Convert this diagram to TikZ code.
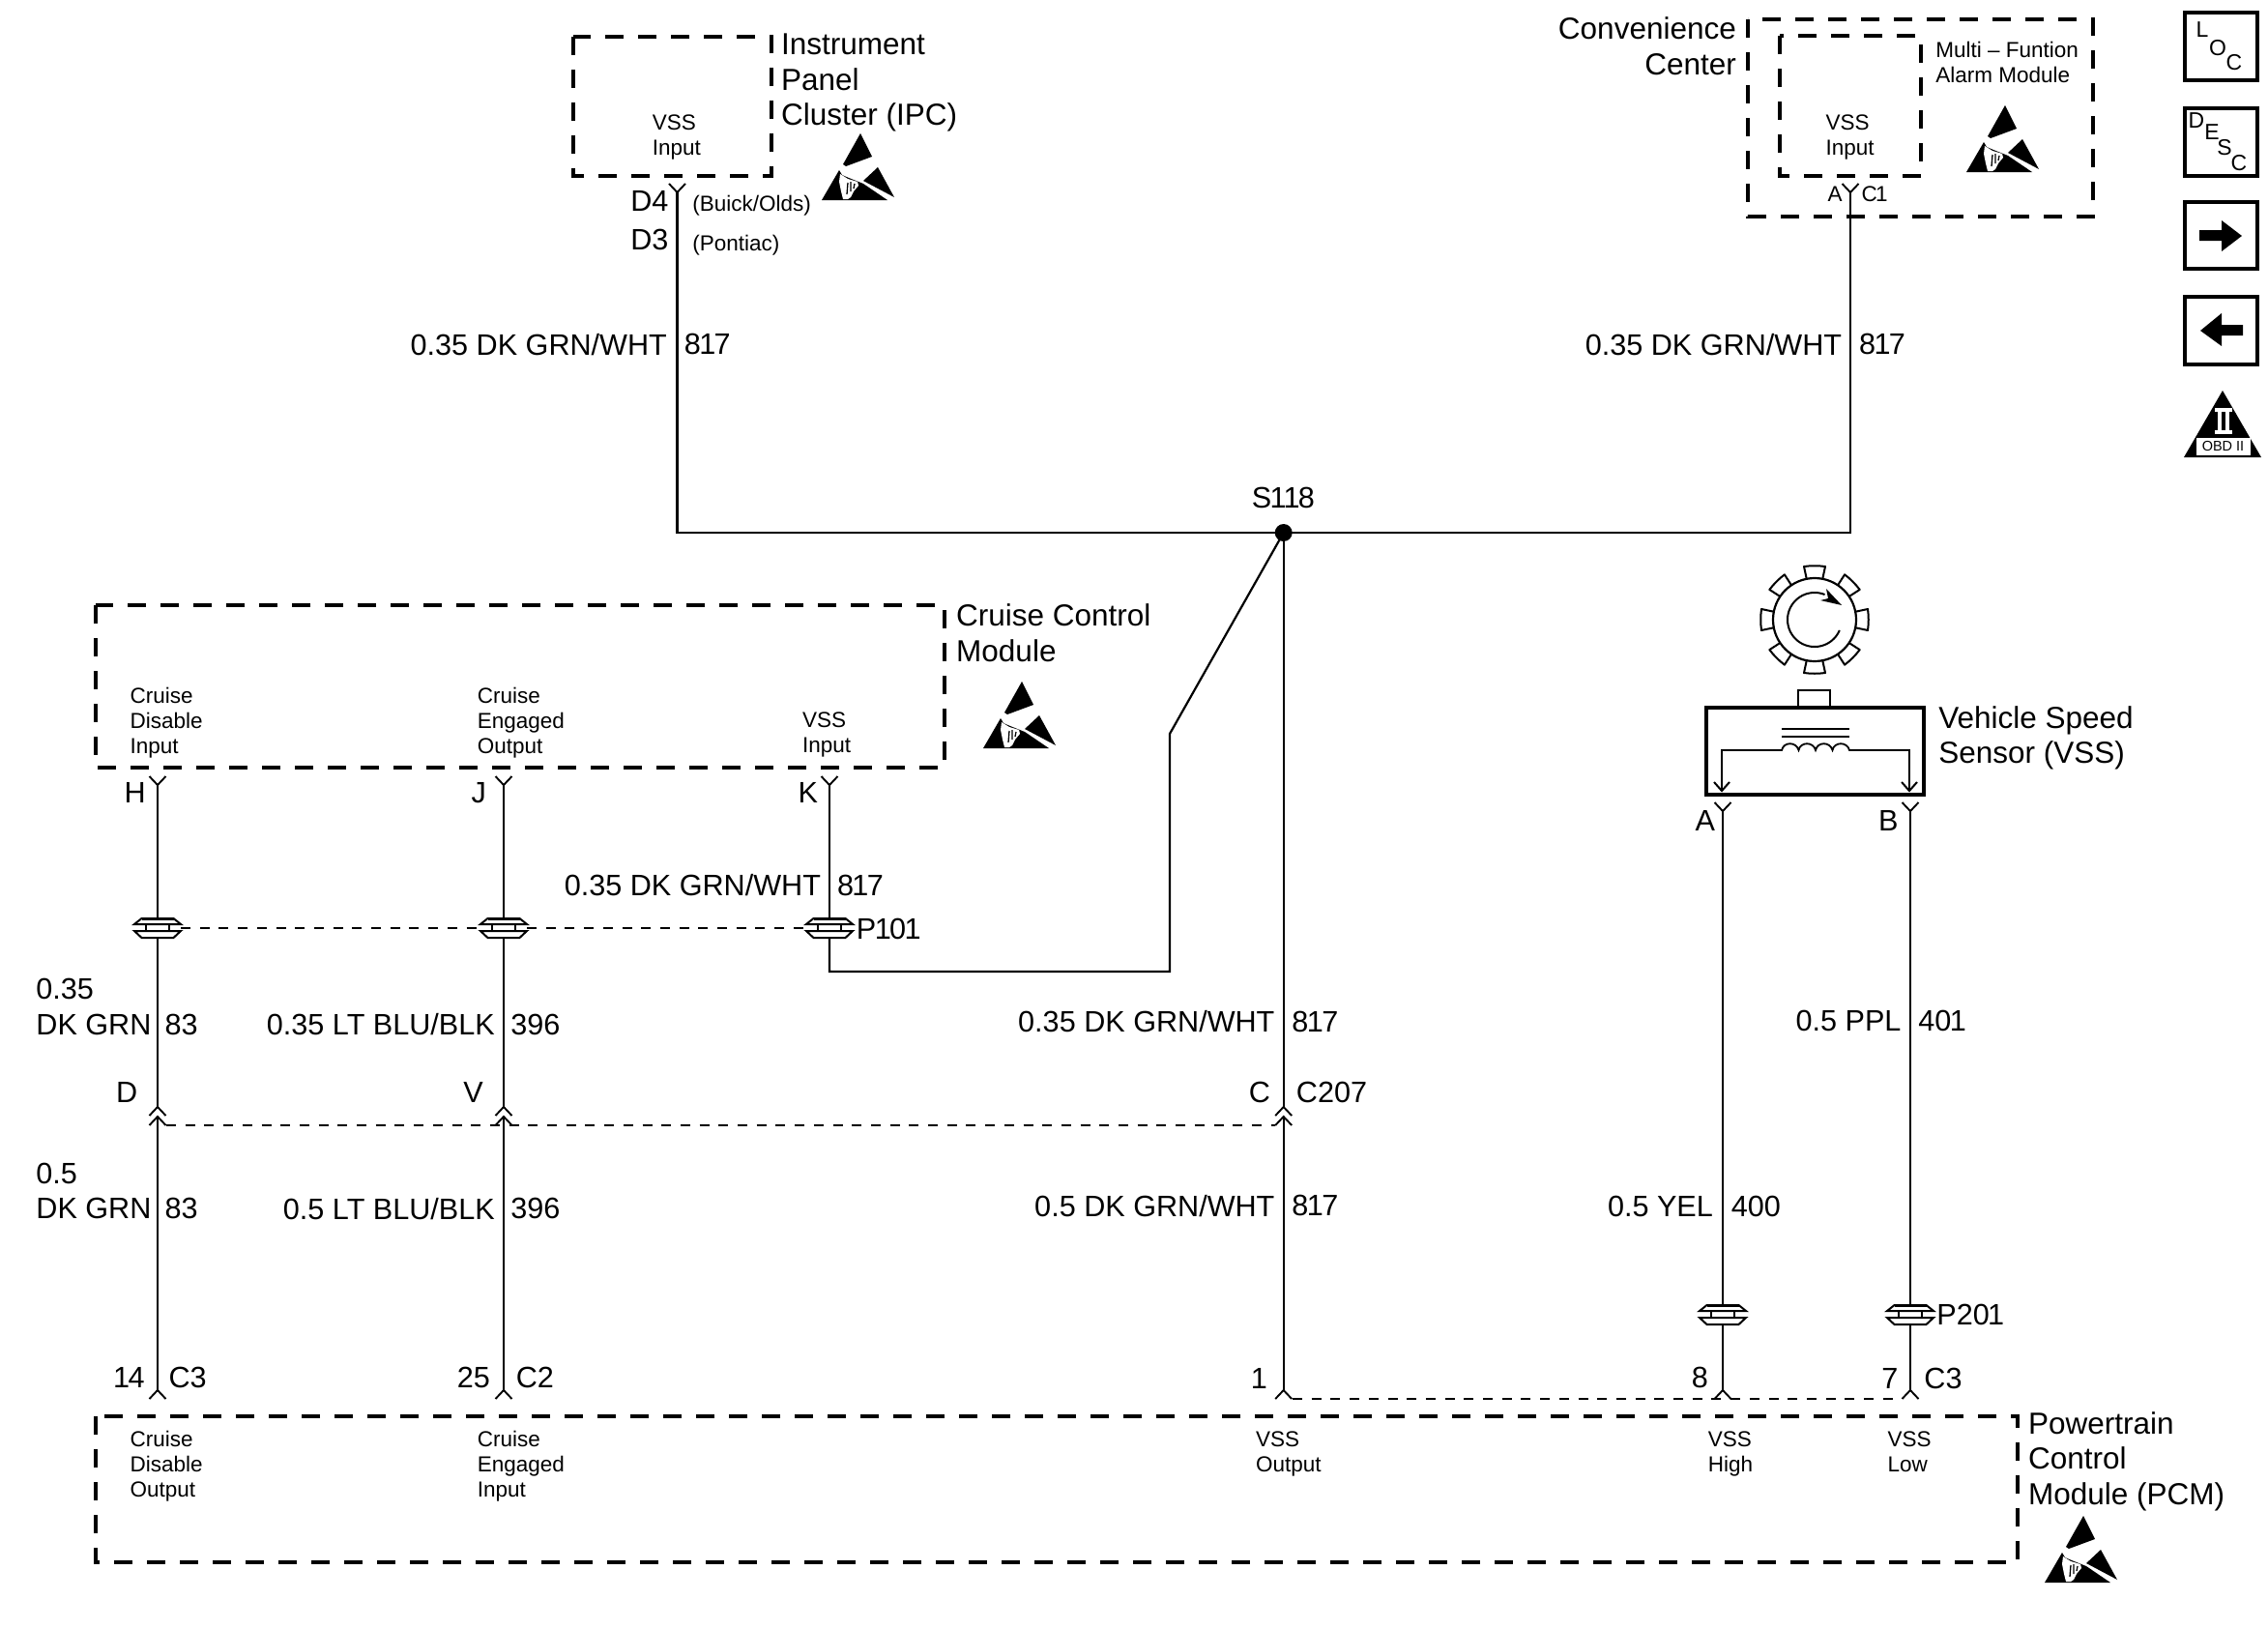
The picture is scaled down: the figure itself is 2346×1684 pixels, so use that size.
\documentclass[tikz,border=0pt]{standalone}
\usepackage{fontspec}
\setmainfont{Liberation Sans}
\newcommand\oneN{\kern-1.6pt 1\kern-1.6pt}
\tikzset{
  wire/.style={line width=2.2pt,line join=miter},
  hair/.style={line width=1.1pt,dash pattern=on 10pt off 9.7pt},
  boxdash/.style={line width=4pt,dash pattern=on 19pt off 15pt},
  big/.style={inner sep=0pt,outer sep=0pt,font=\fontsize{30.6}{36.5}\selectfont,align=left},
  title/.style={inner sep=0pt,outer sep=0pt,font=\fontsize{31.5}{36.5}\selectfont,align=left},
  titler/.style={title,align=right},
  small/.style={inner sep=0pt,outer sep=0pt,font=\fontsize{22.5}{26}\selectfont,align=left},
  iconbox/.style={line width=3.2pt,draw=black,fill=white},
  iconletter/.style={inner sep=0pt,font=\fontsize{23}{23}\selectfont},
}
% pin opening upward (Y), name = point where the wire meets it
\newcommand\pinY[3]{\coordinate (#1) at (#2,#3);
  \draw[line width=1.9pt] (#2-8.5,#3-9) -- (#1) -- (#2+8.5,#3-9);}
% pin opening downward (caret), name = apex
\newcommand\pinC[3]{\coordinate (#1) at (#2,#3);
  \draw[line width=1.9pt] (#2-8.5,#3+9) -- (#1) -- (#2+8.5,#3+9);}
% inline connector: names #1t and #1b are the wire ends
\newcommand\inl[3]{\coordinate (#1t) at (#2,#3-10);\coordinate (#1b) at (#2,#3+10);
  \coordinate (#1l) at (#2-24,#3);\coordinate (#1r) at (#2+24,#3);
  \begin{scope}[shift={(#2,#3)}]
  \draw[line width=2pt,line join=miter] (-24,-4) -- (-16.5,-10) -- (16.5,-10) -- (24,-4) -- cycle;
  \draw[line width=2pt,line join=miter] (-24,3) -- (-16.5,10) -- (16.5,10) -- (24,3) -- cycle;
  \draw[line width=2pt] (-12,-4) -- (-12,3) (12,-4) -- (12,3);
  \draw[line width=3pt] (-16.5,-10) -- (16.5,-10);
  \end{scope}}
% ESD symbol, #1,#2 = top left corner of its bounds
\newcommand\esd[2]{\begin{scope}[shift={(#1,#2)}]
  \fill (40,0) -- (52,24) -- (25,34) -- (22,32) -- cycle;
  \fill (18,38) -- (0,69) -- (68,69) -- (43,52) -- (38,50) -- (28,46) -- (21,43) -- cycle;
  \fill (58,35) -- (75,66) -- (43,49) -- cycle;
  \fill[white] (19,42) -- (27,47) -- (37,50) -- (38,54) -- (33,60) -- (30,66) -- (27,68) -- (22,68) -- (20,60) -- (18,50) -- cycle;
  \draw[line width=1.3pt] (27,51) -- (26,63) (30,50) -- (30,60) (34,52) -- (33,57);
  \end{scope}}
\begin{document}
\begin{tikzpicture}[x=1pt,y=-1pt]
\useasboundingbox[fill=white] (0,0) rectangle (2346,1684);

% module boxes
\draw[boxdash] (593,38) rectangle (798,182);
\draw[boxdash] (1808,20) rectangle (2165,224);
\draw[boxdash] (1841,37) rectangle (1987,182);
\draw[boxdash] (99,626) rectangle (977,794);
\draw[boxdash] (99,1465) rectangle (2087,1616);

% pins
\pinY{ipc}{700.5}{199}
\pinY{conv}{1914}{199}
\pinY{h}{163}{812}
\pinY{j}{521}{812}
\pinY{k}{858}{812}
\pinY{a}{1782}{839}
\pinY{b}{1976}{839}
\pinC{dTop}{163}{1145}\pinC{dBot}{163}{1155}
\pinC{vTop}{521}{1145}\pinC{vBot}{521}{1155}
\pinC{cTop}{1327.7}{1145}\pinC{cBot}{1327.7}{1155}
\pinC{p14}{163}{1438}
\pinC{p25}{521}{1438}
\pinC{p1}{1327.7}{1438}
\pinC{p8}{1782}{1438}
\pinC{p7}{1976}{1438}
\inl{ph}{163}{960}
\inl{pj}{521}{960}
\inl{pk}{858}{960}
\inl{ps}{1782}{1360}
\inl{pt}{1976}{1360}

% splice
\node[circle,fill=black,inner sep=0pt,minimum size=18pt] (s118) at (1327.7,551) {};
\coordinate (kTurn) at (858,1005);
\coordinate (kTurn2) at (1210,1005);
\coordinate (kTurn3) at (1210,759);

% wires
\draw[wire] (ipc) |- (s118.center) -| (conv);
\draw[wire] (s118.center) -- (kTurn3) -- (kTurn2) -- (kTurn) -- (pkb);
\draw[wire] (k) -- (pkt);
\draw[wire] (h) -- (pht);
\draw[wire] (j) -- (pjt);
\draw[wire] (phb) -- (dTop);
\draw[wire] (pjb) -- (vTop);
\draw[wire] (s118.center) -- (cTop);
\draw[wire] (dBot) -- (p14);
\draw[wire] (vBot) -- (p25);
\draw[wire] (cBot) -- (p1);
\draw[wire] (a) -- (pst);
\draw[wire] (b) -- (ptt);
\draw[wire] (psb) -- (p8);
\draw[wire] (ptb) -- (p7);

% dashed ties
\draw[hair] (phr) -- (pjl);
\draw[hair] (pjr) -- (pkl);
\coordinate (dDash) at (172,1164);
\coordinate (cDash) at (1319,1164);
\draw[hair] (dDash) -- (cDash);
\coordinate (oneDash) at (1337,1447);
\coordinate (sevenDash) at (1967,1447);
\draw[hair] (oneDash) -- (sevenDash);

% vehicle speed sensor
\foreach \a in {0,45,...,315}{
  \begin{scope}[shift={(1877,641)},rotate=\a]
  \draw[line width=2pt,fill=white,line join=round] (-8,-41) -- (-11,-55) .. controls (-4,-56) and (4,-56) .. (11,-55) -- (8,-41);
  \end{scope}}
\draw[line width=2.2pt,fill=white] (1877,641) circle (43);
\draw[line width=2pt] plot[domain=23:292,samples=70] ({1877+28*cos(\x)},{641+28*sin(\x)});
\fill (1905,626) -- (1889,609) -- (1891,619) -- (1883,621) -- cycle;
\draw[line width=2.4pt] (1860,732) -- (1860,714) -- (1893,714) -- (1893,732);
\draw[line width=3.6pt] (1765,732) rectangle (1990,822);
\draw[line width=2.4pt] (1843,754) -- (1913,754) (1843,762) -- (1913,762);
\draw[line width=1.8pt] (1781,818) -- (1781,776) -- (1843,776)
  .. controls (1845,767) and (1858,767) .. (1860.5,776)
  .. controls (1862,767) and (1876,767) .. (1878,776)
  .. controls (1880,767) and (1893,767) .. (1895.5,776)
  .. controls (1897,767) and (1911,767) .. (1913,776)
  -- (1975,776) -- (1975,818);
\draw[line width=2pt] (1773,809) -- (1781,818) -- (1789,809);
\draw[line width=2pt] (1967,809) -- (1975,818) -- (1983,809);

% ESD symbols
\esd{850}{138}
\esd{2034}{109}
\esd{1017}{705}
\esd{2115}{1568}

% side icons
\node[iconbox,minimum width=75pt,minimum height=70pt,inner sep=0pt] (locBox) at (2297.5,48) {};
\node[iconletter] (locL) at (2278,31) {L};
\node[iconletter] (locO) at (2294,50) {O};
\node[iconletter] (locC) at (2311,65) {C};
\node[iconbox,minimum width=75pt,minimum height=70pt,inner sep=0pt] (descBox) at (2297.5,147) {};
\node[iconletter] (descD) at (2272,125) {D};
\node[iconletter] (descE) at (2288,137) {E};
\node[iconletter] (descS) at (2301,153) {S};
\node[iconletter] (descC) at (2316,169) {C};
\node[iconbox,minimum width=75pt,minimum height=69pt,inner sep=0pt] (nextBox) at (2297.5,243.5) {};
\fill (2275,238) -- (2298,238) -- (2298,228) -- (2319,244) -- (2298,260) -- (2298,249) -- (2275,249) -- cycle;
\node[iconbox,minimum width=75pt,minimum height=70pt,inner sep=0pt] (prevBox) at (2297.5,342) {};
\fill (2320,336) -- (2298,336) -- (2298,324) -- (2276,342) -- (2298,358) -- (2298,347) -- (2320,347) -- cycle;
\fill (2299,404) -- (2339,473) -- (2259,473) -- cycle;
\fill[white] (2291,422) rectangle (2309,425.5);
\fill[white] (2291,445) rectangle (2309,448.5);
\fill[white] (2294,425) rectangle (2298,446);
\fill[white] (2302,425) rectangle (2306,446);
\node[fill=white,inner sep=0pt,minimum width=56pt,minimum height=18pt,font=\fontsize{14.5}{15}\selectfont] (obd) at (2299.5,462) {OBD II};

% labels
\begin{scope}[x=0.9977pt,y=-0.9977pt]
\node[title,anchor=west] (ipcName) at (810,86) {Instrument\\Panel\\Cluster (IPC)};
\node[small,anchor=west] (ipcIn) at (676.5,142.5) {VSS\\Input};
\node[big,anchor=east] (d4) at (693,208) {D4};
\node[big,anchor=east] (d3) at (693,249) {D3};
\node[small,anchor=west] (buick) at (718,213) {(Buick/Olds)};
\node[small,anchor=west] (pontiac) at (718,254) {(Pontiac)};
\node[big,anchor=east] (w1) at (691.5,357) {0.35 DK GRN/WHT};
\node[big,anchor=west] (n1) at (709.5,357) {8\oneN 7};

\node[titler,anchor=east] (convName) at (1800,48) {Convenience\\Center};
\node[small,anchor=west] (convIn) at (1893,142.5) {VSS\\Input};
\node[small,anchor=west] (alarm) at (2007,65) {Multi -- Funtion\\Alarm Module};
\node[small,anchor=east] (convA) at (1910,201) {A};
\node[small,anchor=west] (convC) at (1930,201) {C\oneN};
\node[big,anchor=east] (w2) at (1909.5,357) {0.35 DK GRN/WHT};
\node[big,anchor=west] (n2) at (1927.5,357) {8\oneN 7};

\node[big] (s118lbl) at (1330.5,516) {S\oneN\oneN 8};

\node[title,anchor=west] (ccm) at (991.5,656) {Cruise Control\\Module};
\node[small,anchor=west] (cdi) at (135,749) {Cruise\\Disable\\Input};
\node[small,anchor=west] (ceo) at (495,749) {Cruise\\Engaged\\Output};
\node[small,anchor=west] (vi) at (832,762) {VSS\\Input};
\node[big,anchor=east] (hl) at (151,822) {H};
\node[big,anchor=east] (jl) at (504,822) {J};
\node[big,anchor=east] (kl) at (848,822) {K};

\node[title,anchor=west] (vssName) at (2010,765) {Vehicle Speed\\Sensor (VSS)};
\node[big,anchor=east] (al) at (1778,851) {A};
\node[big,anchor=east] (bl) at (1968,851) {B};

\node[big,anchor=east] (w3) at (851,918) {0.35 DK GRN/WHT};
\node[big,anchor=west] (n3) at (868,918) {8\oneN 7};
\node[big,anchor=west] (p101) at (888,963) {P\oneN 0\oneN};

\node[big,anchor=west] (w4) at (37.5,1044) {0.35\\DK GRN};
\node[big,anchor=west] (n4) at (171,1062) {83};
\node[big,anchor=east] (w5) at (513,1062) {0.35 LT BLU/BLK};
\node[big,anchor=west] (n5) at (529.5,1062) {396};
\node[big,anchor=east] (w6) at (1321.5,1059) {0.35 DK GRN/WHT};
\node[big,anchor=west] (n6) at (1339.5,1059) {8\oneN 7};
\node[big,anchor=east] (w7) at (1971,1058) {0.5 PPL};
\node[big,anchor=west] (n7) at (1989,1058) {40\oneN};

\node[big,anchor=east] (dl) at (142.5,1133) {D};
\node[big,anchor=east] (vl) at (501,1133) {V};
\node[big,anchor=east] (cl) at (1317,1133) {C};
\node[big,anchor=west] (c207) at (1344,1133) {C207};

\node[big,anchor=west] (w8) at (37.5,1235) {0.5\\DK GRN};
\node[big,anchor=west] (n8) at (171,1253) {83};
\node[big,anchor=east] (w9) at (513,1253) {0.5 LT BLU/BLK};
\node[big,anchor=west] (n9) at (529.5,1253) {396};
\node[big,anchor=east] (w10) at (1321.5,1250) {0.5 DK GRN/WHT};
\node[big,anchor=west] (n10) at (1339.5,1250) {8\oneN 7};
\node[big,anchor=east] (w11) at (1776,1251) {0.5 YEL};
\node[big,anchor=west] (n11) at (1795,1251) {400};
\node[big,anchor=west] (p201) at (2008,1363) {P20\oneN};

\node[big,anchor=east] (l14) at (150,1428) {\oneN 4};
\node[big,anchor=west] (lc3) at (175,1428) {C3};
\node[big,anchor=east] (l25) at (508,1428) {25};
\node[big,anchor=west] (lc2) at (535,1428) {C2};
\node[big,anchor=east] (l1) at (1314,1429) {1};
\node[big,anchor=east] (l8) at (1771,1428) {8};
\node[big,anchor=east] (l7) at (1968,1429) {7};
\node[big,anchor=west] (lc3b) at (1995,1429) {C3};

\node[small,anchor=west] (cdo) at (135,1520) {Cruise\\Disable\\Output};
\node[small,anchor=west] (cei) at (495,1520) {Cruise\\Engaged\\Input};
\node[small,anchor=west] (vo) at (1302,1507) {VSS\\Output};
\node[small,anchor=west] (vh) at (1771,1507) {VSS\\High};
\node[small,anchor=west] (vlow) at (1957,1505) {VSS\\Low};
\node[title,anchor=west] (pcm) at (2103,1515) {Powertrain\\Control\\Module (PCM)};
\end{scope}
\end{tikzpicture}
\end{document}
